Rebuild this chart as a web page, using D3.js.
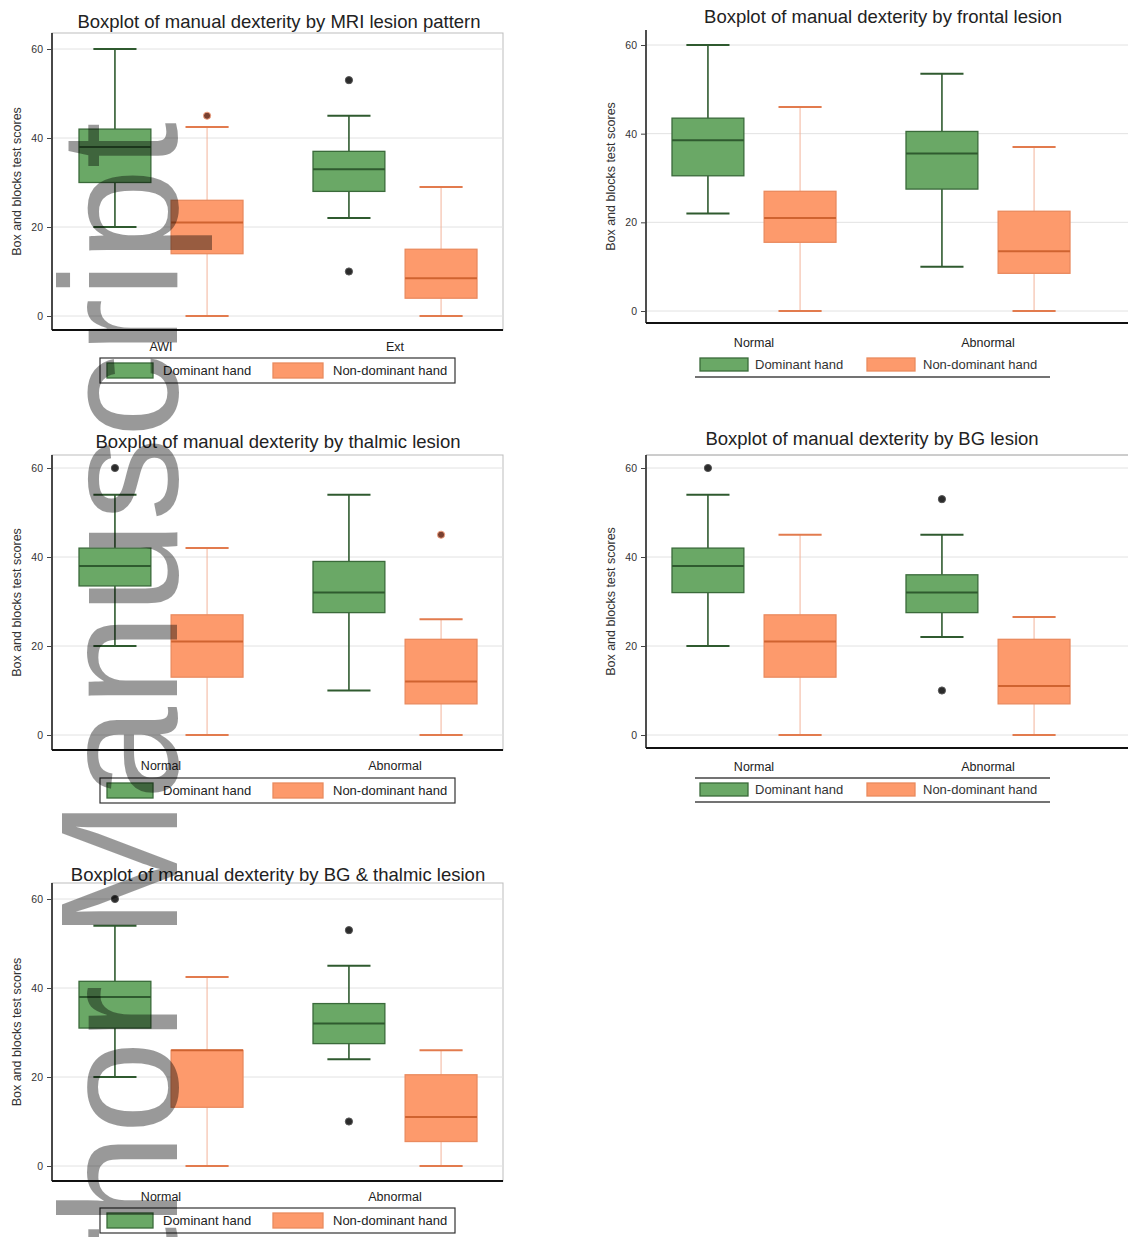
<!DOCTYPE html>
<html>
<head>
<meta charset="utf-8">
<script src="https://cdn.jsdelivr.net/npm/d3@7"></script>
<style>
  html, body { margin: 0; padding: 0; background: #ffffff; }
  svg { display: block; }
  text { font-family: "Liberation Sans", Arial, Helvetica, sans-serif; }
</style>
</head>
<body>
<svg id="fig" width="1130" height="1237"></svg>
<script>
// ---- data: five-number summaries [lower whisker, Q1, median, Q3, upper whisker] ----
const seriesNames = ["Dominant hand", "Non-dominant hand"];
const yTickValues = [0, 20, 40, 60];
const yAxisTitle = "Box and blocks test scores";

const mriTitle = "Boxplot of manual dexterity by MRI lesion pattern";
const mriGroups = ["AWI", "Ext"];
const mriDominant = [[20, 30, 38, 42, 60], [22, 28, 33, 37, 45]];
const mriDominantOut = [[], [53, 10]];
const mriNonDominant = [[0, 14, 21, 26, 42.5], [0, 4, 8.5, 15, 29]];
const mriNonDominantOut = [[45], []];

const frontalTitle = "Boxplot of manual dexterity by frontal lesion";
const frontalGroups = ["Normal", "Abnormal"];
const frontalDominant = [[22, 30.5, 38.5, 43.5, 60], [10, 27.5, 35.5, 40.5, 53.5]];
const frontalDominantOut = [[], []];
const frontalNonDominant = [[0, 15.5, 21, 27, 46], [0, 8.5, 13.5, 22.5, 37]];
const frontalNonDominantOut = [[], []];

const thalamicTitle = "Boxplot of manual dexterity by thalmic lesion";
const thalamicGroups = ["Normal", "Abnormal"];
const thalamicDominant = [[20, 33.5, 38, 42, 54], [10, 27.5, 32, 39, 54]];
const thalamicDominantOut = [[60], []];
const thalamicNonDominant = [[0, 13, 21, 27, 42], [0, 7, 12, 21.5, 26]];
const thalamicNonDominantOut = [[], [45]];

const bgTitle = "Boxplot of manual dexterity by BG lesion";
const bgGroups = ["Normal", "Abnormal"];
const bgDominant = [[20, 32, 38, 42, 54], [22, 27.5, 32, 36, 45]];
const bgDominantOut = [[60], [53, 10]];
const bgNonDominant = [[0, 13, 21, 27, 45], [0, 7, 11, 21.5, 26.5]];
const bgNonDominantOut = [[], []];

const bgThalTitle = "Boxplot of manual dexterity by BG & thalmic lesion";
const bgThalGroups = ["Normal", "Abnormal"];
const bgThalDominant = [[20, 31, 38, 41.5, 54], [24, 27.5, 32, 36.5, 45]];
const bgThalDominantOut = [[60], [53, 10]];
const bgThalNonDominant = [[0, 13.2, 26, 26, 42.5], [0, 5.5, 11, 20.5, 26]];
const bgThalNonDominantOut = [[], []];

// ---- styles ----
const style = {
  dom: { fill: "#6aa866", stroke: "#3a6a3a", median: "#2f5a2f", whisker: "#2f5a2f", wWidth: 1.6, capColor: "#2f5a2f", point: "#2b2b2b" },
  non: { fill: "#fd9a6c", stroke: "#ea8a5e", median: "#cf6330", whisker: "#f3b49a", wWidth: 1, capColor: "#e27b4e", point: "#7a4030" }
};

// ---- layout of each panel ----
const panels = [
  { title: mriTitle, groups: mriGroups, data: [mriDominant, mriNonDominant], out: [mriDominantOut, mriNonDominantOut],
    x0: 52, x1: 503, band: [44, 512], yb: 316, yt: 49, axisY: 330, top: 33, frame: true,
    titleX: 279, titleY: 28, labelY: 348, legend: { kind: "box", x0: 100, y0: 358 } },
  { title: frontalTitle, groups: frontalGroups, data: [frontalDominant, frontalNonDominant], out: [frontalDominantOut, frontalNonDominantOut],
    x0: 646, x1: 1128, band: [637, 1105], yb: 311, yt: 45, axisY: 323, top: 30, frame: false,
    titleX: 883, titleY: 23, labelY: 344, legend: { kind: "lines", x0: 695, y0: 356, above: false } },
  { title: thalamicTitle, groups: thalamicGroups, data: [thalamicDominant, thalamicNonDominant], out: [thalamicDominantOut, thalamicNonDominantOut],
    x0: 52, x1: 503, band: [44, 512], yb: 735, yt: 468, axisY: 750, top: 455, frame: true,
    titleX: 278, titleY: 448, labelY: 767, legend: { kind: "box", x0: 100, y0: 778 } },
  { title: bgTitle, groups: bgGroups, data: [bgDominant, bgNonDominant], out: [bgDominantOut, bgNonDominantOut],
    x0: 646, x1: 1128, band: [637, 1105], yb: 735, yt: 468, axisY: 748, top: 455, frame: false, topLine: true,
    titleX: 872, titleY: 445, labelY: 768, legend: { kind: "lines", x0: 695, y0: 781, above: true } },
  { title: bgThalTitle, groups: bgThalGroups, data: [bgThalDominant, bgThalNonDominant], out: [bgThalDominantOut, bgThalNonDominantOut],
    x0: 52, x1: 503, band: [44, 512], yb: 1166, yt: 899, axisY: 1181, top: 883, frame: true,
    titleX: 278, titleY: 881, labelY: 1198, legend: { kind: "box", x0: 100, y0: 1208 } }
];

const svg = d3.select("#fig");

function drawPanel(p) {
  const g = svg.append("g");
  const y = d3.scaleLinear().domain([0, 60]).range([p.yb, p.yt]);
  const xg = d3.scaleBand().domain(p.groups).range(p.band).padding(0);
  const xs = d3.scaleBand().domain(seriesNames).range([0, xg.bandwidth()]).paddingInner(0).paddingOuter(0.27);
  const boxW = xs.bandwidth() * 0.78;
  const capW = boxW * 0.6;

  // frame and gridlines
  if (p.frame) {
    g.append("rect").attr("x", p.x0).attr("y", p.top).attr("width", p.x1 - p.x0).attr("height", p.axisY - p.top)
      .attr("fill", "none").attr("stroke", "#bdbdbd").attr("stroke-width", 1);
  }
  if (p.topLine) {
    g.append("line").attr("x1", p.x0).attr("x2", p.x1).attr("y1", p.top).attr("y2", p.top)
      .attr("stroke", "#9a9a9a").attr("stroke-width", 1);
  }
  g.append("g").selectAll("line").data(yTickValues).join("line")
    .attr("x1", p.x0).attr("x2", p.x1).attr("y1", d => y(d)).attr("y2", d => y(d))
    .attr("stroke", "#e2e2e2").attr("stroke-width", 1);

  // y axis
  const yAxis = d3.axisLeft(y).tickValues(yTickValues).tickSize(5).tickPadding(4).tickSizeOuter(0);
  const ya = g.append("g").attr("transform", `translate(${p.x0},0)`).call(yAxis);
  ya.select(".domain").attr("d", `M0,${p.top}V${p.axisY}`).attr("stroke", "#222").attr("stroke-width", 1.6);
  ya.selectAll(".tick line").attr("stroke", "#444");
  ya.selectAll(".tick text").attr("font-size", 10.5).attr("fill", "#333")
    .attr("font-family", "'Liberation Sans', Arial, sans-serif");

  g.append("text").attr("transform", `translate(${p.x0 - 31},${(p.top + p.axisY) / 2}) rotate(-90)`)
    .attr("text-anchor", "middle").attr("font-size", 12.5).attr("fill", "#333").text(yAxisTitle);

  // x axis
  const xAxis = d3.axisBottom(xg).tickSize(0).tickPadding(0);
  const xa = g.append("g").attr("transform", `translate(0,${p.axisY})`).call(xAxis);
  xa.select(".domain").attr("d", `M${p.x0},0H${p.x1}`).attr("stroke", "#111").attr("stroke-width", 2.2);
  xa.selectAll(".tick text").attr("y", p.labelY - p.axisY - 6).attr("dy", "0.71em").attr("font-size", 12.5)
    .attr("fill", "#222").attr("font-family", "'Liberation Sans', Arial, sans-serif");

  // boxes
  seriesNames.forEach((s, si) => {
    const st = si === 0 ? style.dom : style.non;
    p.groups.forEach((grp, gi) => {
      const v = p.data[si][gi];
      const cx = xg(grp) + xs(s) + xs.bandwidth() / 2;
      const bg = g.append("g");
      // whisker stems
      bg.append("line").attr("x1", cx).attr("x2", cx).attr("y1", y(v[3])).attr("y2", y(v[4]))
        .attr("stroke", st.whisker).attr("stroke-width", st.wWidth);
      bg.append("line").attr("x1", cx).attr("x2", cx).attr("y1", y(v[1])).attr("y2", y(v[0]))
        .attr("stroke", st.whisker).attr("stroke-width", st.wWidth);
      // caps
      [v[0], v[4]].forEach(c => {
        bg.append("line").attr("x1", cx - capW / 2).attr("x2", cx + capW / 2).attr("y1", y(c)).attr("y2", y(c))
          .attr("stroke", st.capColor).attr("stroke-width", 2);
      });
      // box
      bg.append("rect").attr("x", cx - boxW / 2).attr("y", y(v[3])).attr("width", boxW).attr("height", y(v[1]) - y(v[3]))
        .attr("fill", st.fill).attr("stroke", st.stroke).attr("stroke-width", 1.3);
      // median
      bg.append("line").attr("x1", cx - boxW / 2).attr("x2", cx + boxW / 2).attr("y1", y(v[2])).attr("y2", y(v[2]))
        .attr("stroke", st.median).attr("stroke-width", 2);
      // outside values
      bg.selectAll("circle").data(p.out[si][gi]).join("circle")
        .attr("cx", cx).attr("cy", d => y(d)).attr("r", 3.6)
        .attr("fill", st.point).attr("stroke", si === 0 ? "#555" : "#f0a080").attr("stroke-width", 1);
    });
  });

  // title
  g.append("text").attr("x", p.titleX).attr("y", p.titleY).attr("text-anchor", "middle")
    .attr("font-size", 18.5).attr("fill", "#222").text(p.title);

  // legend
  const L = p.legend;
  const lg = g.append("g");
  if (L.kind === "box") {
    lg.append("rect").attr("x", L.x0).attr("y", L.y0).attr("width", 355).attr("height", 25)
      .attr("fill", "none").attr("stroke", "#333").attr("stroke-width", 1.2);
    const items = [{ x: L.x0 + 7, tx: L.x0 + 63 }, { x: L.x0 + 173, tx: L.x0 + 233 }];
    items.forEach((it, i) => {
      const st = i === 0 ? style.dom : style.non;
      lg.append("rect").attr("x", it.x).attr("y", L.y0 + 5).attr("width", i === 0 ? 46 : 50).attr("height", 15)
        .attr("fill", st.fill).attr("stroke", st.stroke).attr("stroke-width", 1.3);
      lg.append("text").attr("x", it.tx).attr("y", L.y0 + 17).attr("font-size", 13).attr("fill", "#222").text(seriesNames[i]);
    });
  } else {
    const items = [{ x: L.x0 + 5, tx: L.x0 + 60 }, { x: L.x0 + 172, tx: L.x0 + 228 }];
    items.forEach((it, i) => {
      const st = i === 0 ? style.dom : style.non;
      lg.append("rect").attr("x", it.x).attr("y", L.y0 + 2).attr("width", 48).attr("height", 13)
        .attr("fill", st.fill).attr("stroke", st.stroke).attr("stroke-width", 1.3);
      lg.append("text").attr("x", it.tx).attr("y", L.y0 + 13).attr("font-size", 13).attr("fill", "#333").text(seriesNames[i]);
    });
    lg.append("line").attr("x1", L.x0).attr("x2", L.x0 + 355).attr("y1", L.y0 + 21).attr("y2", L.y0 + 21)
      .attr("stroke", "#444").attr("stroke-width", 1.3);
    if (L.above) {
      lg.append("line").attr("x1", L.x0).attr("x2", L.x0 + 355).attr("y1", L.y0 - 3).attr("y2", L.y0 - 3)
        .attr("stroke", "#444").attr("stroke-width", 1.3);
    }
  }
}

panels.forEach(drawPanel);

// manuscript banner running up the left edge, over the panels
svg.append("text")
  .attr("transform", "translate(177,122) rotate(-90)")
  .attr("text-anchor", "end")
  .attr("font-size", 167)
  .attr("font-family", "'Liberation Sans', Arial, sans-serif")
  .attr("fill", "#000").attr("fill-opacity", 0.4)
  .text("Author Manuscript");
</script>
</body>
</html>
